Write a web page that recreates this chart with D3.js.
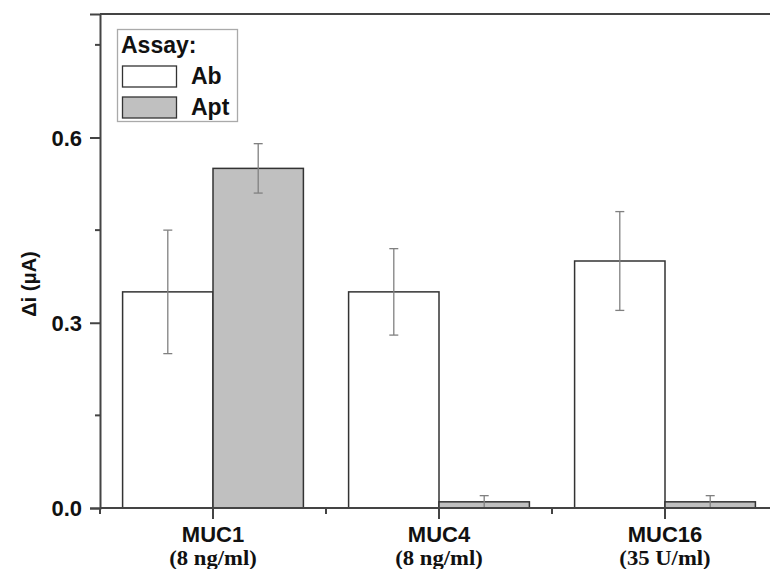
<!DOCTYPE html>
<html>
<head>
<meta charset="utf-8">
<script src="https://cdn.jsdelivr.net/npm/d3@7"></script>
<style>
  html, body { margin: 0; padding: 0; background: #fff; }
  svg { display: block; }
  .sans { font-family: Arial, "Liberation Sans", sans-serif; font-weight: bold; }
  .serif { font-family: "Times New Roman", "Liberation Serif", serif; font-weight: bold; }
</style>
</head>
<body>
<svg id="chart" width="770" height="569"></svg>
<script>
// Biomarkers and concentrations
const categories = ["MUC1", "MUC4", "MUC16"];
const concentrations = ["(8 ng/ml)", "(8 ng/ml)", "(35 U/ml)"];
const seriesNames = ["Ab", "Apt"];
// Current change Δi (μA), mean and error per series
const abValues = [0.35, 0.35, 0.40];
const abErrors = [0.10, 0.07, 0.08];
const aptValues = [0.55, 0.01, 0.01];
const aptErrors = [0.04, 0.01, 0.01];
const yTicks = [0.0, 0.3, 0.6];
const yMinorTicks = [0.15, 0.45, 0.75];

const svg = d3.select("#chart");
const plotLeft = 100, plotTop = 14, plotBottom = 508, plotRight = 778;

const x = d3.scaleBand().domain(categories).range([plotLeft, plotRight]).paddingInner(0).paddingOuter(0);
const y = d3.scaleLinear().domain([0, 0.8]).range([plotBottom, plotTop]);
const barW = x.bandwidth() * 0.4;

const fills = { Ab: "#ffffff", Apt: "#c0c0c0" };
const rows = [];
categories.forEach((c, i) => {
  rows.push({ cat: c, s: "Ab", v: abValues[i], e: abErrors[i], off: -1 });
  rows.push({ cat: c, s: "Apt", v: aptValues[i], e: aptErrors[i], off: 0 });
});

// bars
svg.append("g").selectAll("rect").data(rows).join("rect")
  .attr("x", d => x(d.cat) + x.bandwidth() / 2 + d.off * barW)
  .attr("y", d => y(d.v))
  .attr("width", barW)
  .attr("height", d => y(0) - y(d.v))
  .attr("fill", d => fills[d.s])
  .attr("stroke", "#333")
  .attr("stroke-width", 1.5);

// error bars
const eg = svg.append("g").attr("stroke", "#808080").attr("stroke-width", 1.3);
rows.forEach(d => {
  const cx = x(d.cat) + x.bandwidth() / 2 + d.off * barW + barW / 2;
  eg.append("line").attr("x1", cx).attr("x2", cx).attr("y1", y(d.v - d.e)).attr("y2", y(d.v + d.e));
  [d.v - d.e, d.v + d.e].forEach(t => {
    eg.append("line").attr("x1", cx - 4.5).attr("x2", cx + 4.5).attr("y1", y(t)).attr("y2", y(t));
  });
});

// frame: top border
svg.append("line").attr("x1", plotLeft).attr("x2", 770).attr("y1", plotTop).attr("y2", plotTop)
  .attr("stroke", "#444").attr("stroke-width", 2);

// y axis
const yAxis = d3.axisLeft(y).tickValues(yTicks).tickFormat(d3.format(".1f")).tickSize(10).tickPadding(8);
const gy = svg.append("g").attr("transform", `translate(${plotLeft},0)`).call(yAxis);
gy.select(".domain").attr("stroke", "#444").attr("stroke-width", 2);
gy.selectAll(".tick line").attr("stroke", "#444").attr("stroke-width", 2);
gy.selectAll(".tick text").attr("class", "sans").attr("font-size", 22).attr("fill", "#111").attr("dy", "0.36em");
svg.append("g").selectAll("line").data(yMinorTicks).join("line")
  .attr("x1", plotLeft - 5).attr("x2", plotLeft).attr("y1", d => y(d)).attr("y2", d => y(d))
  .attr("stroke", "#444").attr("stroke-width", 2);

// x axis
svg.append("line").attr("x1", plotLeft).attr("x2", 770).attr("y1", plotBottom).attr("y2", plotBottom)
  .attr("stroke", "#444").attr("stroke-width", 2);
categories.forEach((c, i) => {
  const cx = x(c) + x.bandwidth() / 2;
  svg.append("line").attr("x1", cx).attr("x2", cx).attr("y1", plotBottom).attr("y2", plotBottom + 11)
    .attr("stroke", "#444").attr("stroke-width", 2);
  // two-line category label: name, then concentration
  svg.append("text").attr("class", "sans").attr("x", cx).attr("y", 542)
    .attr("text-anchor", "middle").attr("font-size", 22).attr("fill", "#111").text(c);
  svg.append("text").attr("class", "serif").attr("x", cx).attr("y", 565.5)
    .attr("text-anchor", "middle").attr("font-size", 21).attr("fill", "#111")
    .attr("transform", `translate(${cx},0) scale(1.08,1) translate(${-cx},0)`)
    .text(concentrations[i]);
});
x.domain().forEach(c => {
  const bx = x(c);
  if (bx < 770) svg.append("line").attr("x1", bx).attr("x2", bx).attr("y1", plotBottom).attr("y2", plotBottom + 6)
    .attr("stroke", "#444").attr("stroke-width", 2);
});

// y axis title
svg.append("text").attr("class", "sans")
  .attr("transform", "translate(36,284) rotate(-90)")
  .attr("text-anchor", "middle").attr("font-size", 20).attr("fill", "#111")
  .text("Δi (μA)");

// legend
const lg = svg.append("g");
lg.append("rect").attr("x", 117.5).attr("y", 29.5).attr("width", 120).attr("height", 92)
  .attr("fill", "#fff").attr("stroke", "#aaa").attr("stroke-width", 1.3);
lg.append("text").attr("class", "sans").attr("x", 121).attr("y", 53)
  .attr("font-size", 23).attr("fill", "#111").text("Assay:");
seriesNames.forEach((s, i) => {
  const yy = 66 + i * 31;
  lg.append("rect").attr("x", 122.5).attr("y", yy).attr("width", 54).attr("height", 21)
    .attr("fill", fills[s]).attr("stroke", "#333").attr("stroke-width", 1.3);
  lg.append("text").attr("class", "sans").attr("x", 191).attr("y", yy + 18)
    .attr("font-size", 23).attr("fill", "#111").text(s);
});
</script>
</body>
</html>
